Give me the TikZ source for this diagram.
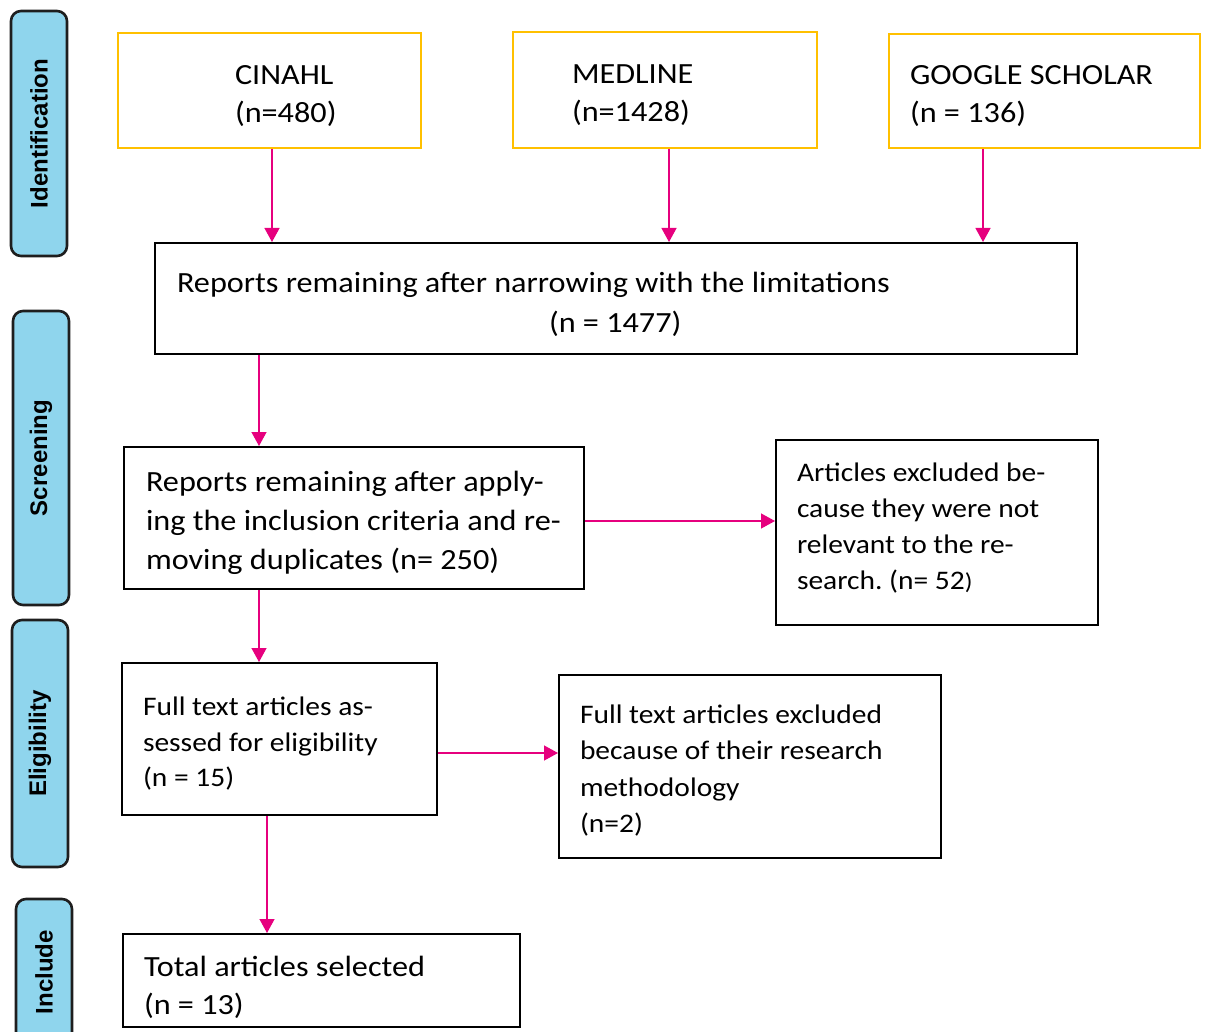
\documentclass[tikz,border=0pt]{standalone}
\usepackage{fontspec}
\setmainfont{Carlito}[FakeStretch=1.1]
\newfontfamily\sidefont{Liberation Sans}
\usetikzlibrary{arrows.meta}
\definecolor{gold}{RGB}{255,192,0}
\definecolor{mag}{RGB}{230,0,126}
\definecolor{sideblue}{RGB}{143,213,237}
\definecolor{sideline}{RGB}{30,30,30}
\newcommand\padl[2][30]{\leftskip=#2pt\relax\spaceskip=0pt\relax\xspaceskip=0pt\relax\frenchspacing\rule{0pt}{#1pt}}
\tikzset{
  sidebox/.style={draw=sideline, line width=2.6pt, fill=sideblue, rounded corners=10pt,
    minimum width=56pt, inner sep=0pt, font=\sidefont\bfseries\fontsize{24}{28}\selectfont},
  srcbox/.style={draw=gold, line width=2pt, inner sep=0pt, align=left,
    font=\fontsize{29.3}{38}\selectfont},
  flowbox/.style={draw=black, line width=2pt, inner sep=0pt, align=left,
    font=\fontsize{29.3}{38}\selectfont},
  smalltext/.style={font=\fontsize{26.8}{36}\selectfont},
  arr/.style={draw=mag, line width=1.3pt, -{Triangle[length=14pt,width=15pt]}},
}
\begin{document}
\begin{tikzpicture}[x=1pt,y=-1pt]
\useasboundingbox (0,0) rectangle (1206,1032);
\clip (0,0) rectangle (1206,1032);

% side labels
\node[sidebox, minimum height=245pt] (sid) at (39,133.5) {\rotatebox{90}{Identification}};
\node[sidebox, minimum height=294pt] (sscr) at (41,458) {\rotatebox{90}{Screening}};
\node[sidebox, minimum height=247pt] (sel) at (40,743.5) {\rotatebox{90}{Eligibility}};
\node[sidebox, minimum height=146pt] (sinc) at (44,972) {\rotatebox{90}{Include}};

% sources
\node[srcbox, text width=303pt, minimum height=115pt] (cin) at (269.5,90.5)
  {\padl{117}CINAHL\\(n=480)\par};
\node[srcbox, text width=304pt, minimum height=116pt] (med) at (665,90)
  {\padl{59}MEDLINE\\(n=1428)\par};
\node[srcbox, text width=311pt, minimum height=114pt] (goo) at (1044.5,91)
  {\padl{21}GOOGLE SCHOLAR\\(n = 136)\par};

% flow boxes
\node[flowbox, text width=922pt, minimum height=111pt, font=\fontsize{29.3}{40}\selectfont] (nar) at (616,298.5)
  {\padl[32]{22}Reports remaining after narrowing with the limitations\\\hspace*{372pt}(n = 1477)\par};
\node[flowbox, text width=460pt, minimum height=142pt, font=\fontsize{29.3}{39}\selectfont] (inc) at (354,518)
  {\padl{22}Reports remaining after apply-\\ing the inclusion criteria and re-\\moving duplicates (n= 250)\par};
\node[flowbox, smalltext, text width=322pt, minimum height=185pt] (exc1) at (937,532.5)
  {\padl[28.5]{21}Articles excluded be-\\cause they were not\\relevant to the re-\\search. (n= 52{\fontsize{23}{36}\selectfont)}\rule[-23pt]{0pt}{23pt}\par};
\node[flowbox, smalltext, text width=315pt, minimum height=152pt, font=\fontsize{26.8}{35.5}\selectfont] (fta) at (279.5,739)
  {\padl[28.5]{21}Full text articles as-\\sessed for eligibility\\(n = 15)\par};
\node[flowbox, smalltext, text width=382pt, minimum height=183pt, font=\fontsize{26.8}{36.3}\selectfont] (exc2) at (750,766.5)
  {\padl[26.5]{21}Full text articles excluded\\because of their research\\methodology\\(n=2)\par};
\node[flowbox, text width=397pt, minimum height=93pt] (tot) at (321.5,980.5)
  {\padl[34]{21}Total articles selected\\(n = 13)\par};

% connectors
\coordinate (a1) at ([xshift=2.5pt]cin.south);
\coordinate (a2) at ([xshift=4pt]med.south);
\coordinate (a3) at ([xshift=-61.5pt]goo.south);
\coordinate (a4) at ([xshift=-357pt]nar.south);
\coordinate (a5) at ([yshift=-3pt]inc.east);
\coordinate (a6) at ([xshift=-95pt]inc.south);
\coordinate (a7) at ([yshift=-14pt]fta.east);
\coordinate (a8) at ([xshift=-12.5pt]fta.south);
\draw[arr] (a1) -- (a1 |- nar.north);
\draw[arr] (a2) -- (a2 |- nar.north);
\draw[arr] (a3) -- (a3 |- nar.north);
\draw[arr] (a4) -- (a4 |- inc.north);
\draw[arr] (a5) -- (a5 -| exc1.west);
\draw[arr] (a6) -- (a6 |- fta.north);
\draw[arr] (a7) -- (a7 -| exc2.west);
\draw[arr] (a8) -- (a8 |- tot.north);
\end{tikzpicture}
\end{document}
